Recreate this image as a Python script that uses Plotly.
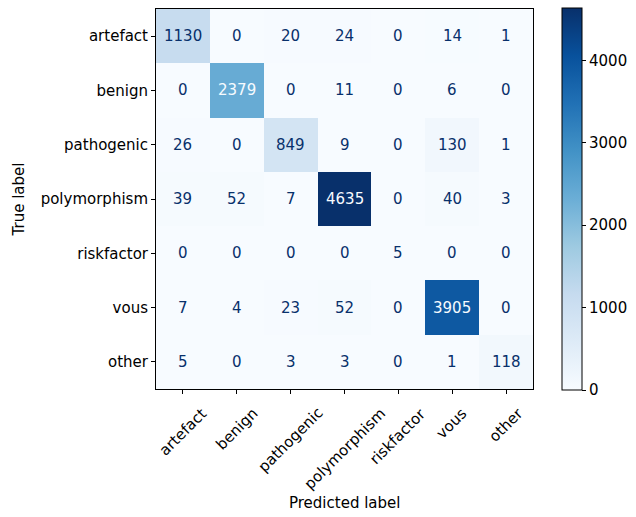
import plotly.graph_objects as go

# Class names and confusion-matrix counts (rows = true, columns = predicted)
labels = ["artefact", "benign", "pathogenic", "polymorphism", "riskfactor", "vous", "other"]
row_artefact = [1130, 0, 20, 24, 0, 14, 1]
row_benign = [0, 2379, 0, 11, 0, 6, 0]
row_pathogenic = [26, 0, 849, 9, 0, 130, 1]
row_polymorphism = [39, 52, 7, 4635, 0, 40, 3]
row_riskfactor = [0, 0, 0, 0, 5, 0, 0]
row_vous = [7, 4, 23, 52, 0, 3905, 0]
row_other = [5, 0, 3, 3, 0, 1, 118]
colorbar_ticks = [0, 1000, 2000, 3000, 4000]

matrix = [row_artefact, row_benign, row_pathogenic, row_polymorphism,
          row_riskfactor, row_vous, row_other]

blues = [
    [0.0, "#f7fbff"], [0.125, "#deebf7"], [0.25, "#c6dbef"], [0.375, "#9ecae1"],
    [0.5, "#6baed6"], [0.625, "#4292c6"], [0.75, "#2171b5"], [0.875, "#08519c"],
    [1.0, "#08306b"],
]

FONT = "DejaVu Sans"
FS = 15
n = len(labels)
zmax = max(max(r) for r in matrix)
thresh = zmax / 2.0

fig = go.Figure(go.Heatmap(
    z=matrix,
    x=list(range(n)),
    y=list(range(n)),
    zmin=0,
    zmax=zmax,
    colorscale=blues,
    xgap=0, ygap=0,
    hoverinfo="skip",
    colorbar=dict(
        x=1.076, xanchor="left", xref="paper",
        y=0.5, yanchor="middle", len=1.005, lenmode="fraction",
        thickness=20, thicknessmode="pixels",
        outlinecolor="black", outlinewidth=1,
        tickvals=colorbar_ticks, ticks="outside", ticklen=4, tickcolor="black",
        tickfont=dict(family=FONT, size=FS, color="black"),
        xpad=0, ypad=0,
    ),
))

annotations = []
for i, row in enumerate(matrix):
    for j, v in enumerate(row):
        annotations.append(dict(
            x=j, y=i, xref="x", yref="y", text=str(v), showarrow=False,
            font=dict(family=FONT, size=FS, color="#f7fbff" if v > thresh else "#08306b"),
        ))

# Rotated predicted-class labels, centered under each tick
for j, lab in enumerate(labels):
    annotations.append(dict(
        x=j, y=-0.033, xref="x", yref="paper", text=lab, showarrow=False,
        textangle=-45, xanchor="center", yanchor="top",
        font=dict(family=FONT, size=FS, color="black"),
    ))

annotations.append(dict(
    x=0.5, y=-0.3, xref="paper", yref="paper", text="Predicted label",
    showarrow=False, xanchor="center", yanchor="middle",
    font=dict(family=FONT, size=FS, color="black"),
))

fig.update_layout(
    width=636, height=517,
    margin=dict(l=156, r=99, t=8, b=128, pad=0),
    paper_bgcolor="white", plot_bgcolor="white",
    font=dict(family=FONT, size=FS, color="black"),
    annotations=annotations,
    xaxis=dict(
        range=[-0.5, n - 0.5], tickvals=list(range(n)), showticklabels=False,
        ticks="outside", ticklen=4, tickcolor="black", tickwidth=1,
        showline=True, linecolor="black", linewidth=1, mirror=True,
        showgrid=False, zeroline=False,
    ),
    yaxis=dict(
        range=[n - 0.5, -0.5], tickvals=list(range(n)), ticktext=labels,
        ticks="outside", ticklen=4, tickcolor="black", tickwidth=1,
        showline=True, linecolor="black", linewidth=1, mirror=True,
        showgrid=False, zeroline=False,
        tickfont=dict(family=FONT, size=FS, color="black"),
        title=dict(text="True label", font=dict(family=FONT, size=FS, color="black"), standoff=12),
    ),
)

fig.write_html("out.html")
